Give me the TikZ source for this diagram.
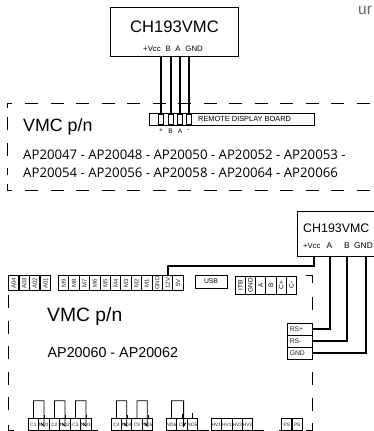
\documentclass[tikz,border=0pt]{standalone}
\usepackage{fontspec}
\setmainfont{Liberation Sans}
\newfontfamily\opensans{Open Sans}
\tikzset{
  termbox/.style={draw,line width=1pt,fill=white,minimum width=10.4pt,minimum height=#1,inner sep=0pt,anchor=north west},
  termtxt/.style={font=\fontsize{6}{7}\selectfont,text=black!85},
  lowtxt/.style={font=\fontsize{4.8}{5}\selectfont,text=black!85},
  wire/.style={line width=2pt},
  frame/.style={line width=0.9pt,dash pattern=on 13pt off 12.5pt},
  solidframe/.style={line width=0.9pt},
  jumper/.style={line width=0.8pt}
}
\newcommand{\vterm}[3]{\node[termbox=15pt] (#1) at (#2,275) {}; \node[termtxt,rotate=90] at (#1.center) {#3};}
\newcommand{\hterm}[3]{\node[termbox=12pt,lowtxt] (#1) at (#2,418) {#3};}
\begin{document}
\begin{tikzpicture}[x=1pt,y=-1pt]
\useasboundingbox (0,0) rectangle (374,431);
% upper frame
\draw[frame] (25,103) -- (374,103);
\draw[frame] (25,190) -- (374,190);
\draw[solidframe] (7.5,108) |- (12,103);
\draw[solidframe] (7.5,184) |- (12,190);
\draw[frame] (7.5,117) -- (7.5,175);
% upper module
\node[draw,line width=0.9pt,minimum width=128pt,minimum height=49pt,inner sep=0pt] (ch1) at (174.5,31.5) {};
\node[font=\fontsize{16.6}{18}\selectfont] at (174.5,27) {CH193VMC};
\node[font=\fontsize{7.8}{9}\selectfont] at (173,48.5) {+Vcc\,\, B\,\, A\,\, GND};
\node[draw,line width=0.9pt,minimum width=165pt,minimum height=12.5pt,inner sep=0pt] (board) at (232,119.2) {};
\node[font=\fontsize{7.4}{8}\selectfont,anchor=west,inner sep=0pt] at (198,119.2) {REMOTE DISPLAY BOARD};
\foreach \name/\px/\lab in {p/161/+,b/170.5/B,a/180/A,m/188.5/-} {
  \node[draw,line width=0.8pt,minimum width=5pt,minimum height=10pt,inner sep=0pt] (pin\name) at (\px,119) {};
  \node[font=\fontsize{6.5}{8}\selectfont] at (\px,131) {\lab};
  \coordinate (top\name) at (\px,56);
  \draw[wire] (top\name) -- (pin\name.north);
}
\node[anchor=west,font=\fontsize{17.8}{20}\selectfont,inner sep=0pt] at (23,127) {VMC p/n};
\node[anchor=west,font=\opensans\fontsize{13.2}{15}\selectfont,inner sep=0pt] at (23,155) {AP20047 - AP20048 - AP20050 - AP20052 - AP20053 -};
\node[anchor=west,font=\opensans\fontsize{13.2}{15}\selectfont,inner sep=0pt] at (23,173) {AP20054 - AP20056 - AP20058 - AP20064 - AP20066};
\node[anchor=west,font=\fontsize{15.5}{18}\selectfont,text=black!60,inner sep=0pt] at (358,10) {ur};
% lower frame
\draw[frame] (8,295) -- (8,420);
\draw[solidframe] (8,425) |- (14,430);
\draw[solidframe] (306,275) -| (312.7,283);
\draw[frame] (312.7,297) -- (312.7,320);
\draw[frame] (312.7,372) -- (312.7,420);
\draw[solidframe] (306,430) -| (312.7,423);
\foreach \xa/\xb in {91/98,197/209,252/264,279/281} \draw[solidframe] (\xa,430) -- (\xb,430);
% upper terminals
\foreach \name/\px/\lab in {aoa/8/A04,aob/18.5/A03,aoc/29/A02,aod/39.8/A01,
  ma/58/M9,mb/68.4/M8,mc/78.8/M7,md/89.2/M6,me/99.6/M5,mf/110/M4,mg/120.4/M3,mh/130.8/M2,mi/141.2/M1,
  gnd/151.6/GND,twelve/162/12V,five/172.4/5V}
  {\vterm{\name}{\px}{\lab}}
\node[draw,line width=0.9pt,minimum width=32pt,minimum height=13pt,inner sep=0pt,font=\fontsize{6.8}{8}\selectfont] (usb) at (211,281.5) {USB};
\foreach \name/\px/\lab in {itb/234.7/ITB,gndb/244.9/GND,aa/255.1/A,bb/265.3/B,cp/275.5/C+,cm/285.7/C-}
  {\node[termbox=18pt,minimum width=10.2pt] (\name) at (\px,275.5) {}; \node[rotate=90,font=\fontsize{6.5}{7}\selectfont] at (\name.center) {\lab};}
% lower terminals
\foreach \name/\px/\lab in {ca/27.7/C1,na/38.2/NO1,cb/48.7/C2,nb/59.2/NO2,cc/69.7/C3,nc/80.2/NO3,
  cd/110.7/C4,nd/121/NO4,ce/131.3/C5,ne/141.6/NO5,
  nf/165.7/NO6,cf/176.2/C6,ng/186.7/NO6,
  ha/210.7/HV1,hb/221.1/HV1,hc/231.5/HV2,hd/241.9/HV2,
  pa/281/PS,pb/291.5/PS}
  {\hterm{\name}{\px}{\lab}}
% jumpers
\foreach \c/\n in {ca/na,cb/nb,cc/nc,cd/nd,ce/ne} {
  \draw[jumper] (\c.north) -- ++(0,-17.3) -| ([yshift=-8pt]\n.north) -- ([xshift=-3pt,yshift=-5pt]\n.north);
  \draw[jumper] ([xshift=0.8pt]\n.north) -- ++(0,-3);
}
\draw[jumper] (nf.north) -- ++(0,-17.3) -| ([xshift=1.7pt,yshift=-8pt]cf.north) -- ([xshift=3.7pt,yshift=-5pt]cf.north);
\draw[jumper] (cf.north) -- ++(0,-4);
\draw[jumper] (ng.north) -- ++(0,-5);
% lower module
\node[draw,line width=0.9pt,fill=white,minimum width=78pt,minimum height=45pt,inner sep=0pt,anchor=north west] (ch2) at (296.5,211) {};
\node[anchor=west,font=\fontsize{12.4}{14}\selectfont,inner sep=0pt] at (303,228) {CH193VMC};
\node[anchor=west,font=\fontsize{7.6}{9}\selectfont,inner sep=0pt] at (303,246) {+Vcc};
\node[font=\fontsize{8.4}{9}\selectfont] at (329.5,246) {A};
\node[font=\fontsize{8.4}{9}\selectfont] at (346.8,246) {B};
\node[font=\fontsize{8.4}{9}\selectfont] at (363.5,246) {GND};
\foreach \name/\py/\lab in {rsp/323/RS+,rsm/335/RS-,rsg/347/GND}
  \node[draw,line width=0.9pt,fill=white,text width=21pt,minimum height=12pt,inner xsep=2pt,inner ysep=0pt,anchor=north west,align=left,font=\fontsize{6.8}{8}\selectfont,text=black!85] (\name) at (287.3,\py) {\lab};
\coordinate (vcc) at (314,256);
\coordinate (sa) at (329.7,256);
\coordinate (sb) at (347,256);
\coordinate (sg) at (366,256);
\draw[wire] (twelve.north) |- (167.4,265.5) -| (vcc);
\draw[wire] (sa) |- (rsp.east);
\draw[wire] (sb) |- (rsm.east);
\draw[wire] (sg) |- (rsg.east);
\node[anchor=west,font=\fontsize{19.3}{21}\selectfont,inner sep=0pt] at (47,317) {VMC p/n};
\node[anchor=west,font=\fontsize{14.3}{16}\selectfont,inner sep=0pt] at (47.5,353) {AP20060 - AP20062};
\end{tikzpicture}
\end{document}
